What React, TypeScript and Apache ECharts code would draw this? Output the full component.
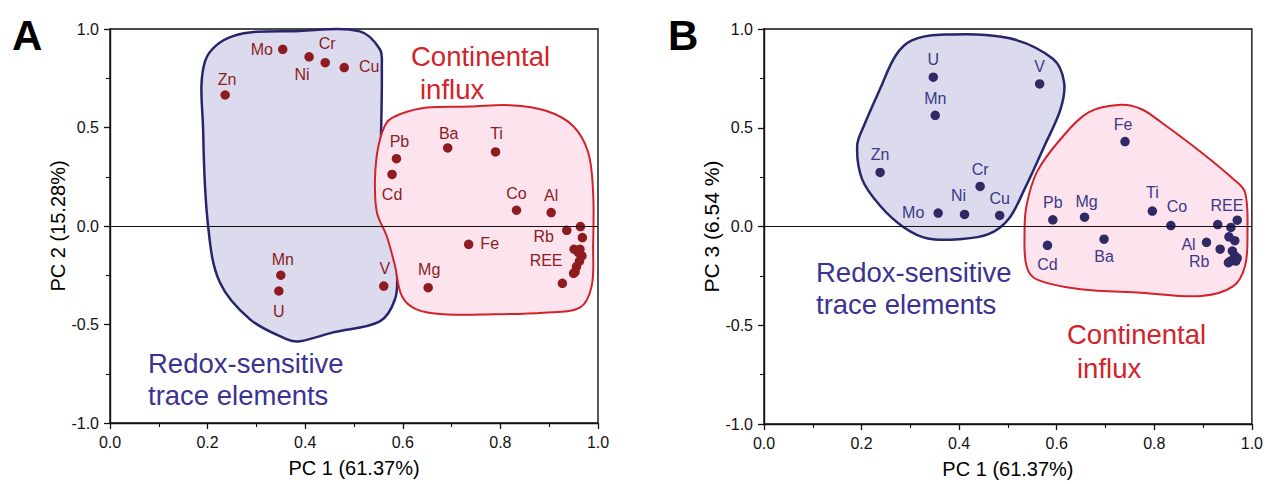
import React, { useEffect, useRef } from "react";
import * as echarts from "echarts";

// ---------- Panel A data (PC1 vs PC2) ----------
const labelsA = ["Mo", "Ni", "Cr", "Cu", "Zn", "Pb", "Cd", "Mn", "U", "V", "Ba", "Ti", "Co", "Al", "Fe", "Mg", "Rb", "REE", "", "", "", "", "", "", "", "", "", ""];
const pc1A = [0.354, 0.408, 0.441, 0.480, 0.236, 0.587, 0.578, 0.350, 0.346, 0.561, 0.692, 0.790, 0.833, 0.904, 0.735, 0.652, 0.936, 0.951, 0.964, 0.968, 0.963, 0.967, 0.962, 0.956, 0.953, 0.950, 0.960, 0.927];
const pc2A = [0.897, 0.859, 0.829, 0.804, 0.665, 0.342, 0.262, -0.250, -0.330, -0.305, 0.396, 0.376, 0.080, 0.068, -0.093, -0.313, -0.022, -0.118, -0.003, -0.059, -0.118, -0.152, -0.178, -0.206, -0.233, -0.240, -0.135, -0.291];

// ---------- Panel B data (PC1 vs PC3) ----------
const labelsB = ["U", "V", "Mn", "Fe", "Zn", "Cr", "Mo", "Ni", "Cu", "Pb", "Mg", "Ti", "Co", "Cd", "Ba", "Al", "Rb", "REE", "", "", "", "", "", "", "", "", "", ""];
const pc1B = [0.347, 0.565, 0.351, 0.740, 0.238, 0.443, 0.357, 0.411, 0.483, 0.592, 0.657, 0.796, 0.834, 0.581, 0.697, 0.907, 0.935, 0.957, 0.930, 0.970, 0.953, 0.965, 0.960, 0.965, 0.956, 0.967, 0.952, 0.970];
const pc3B = [0.756, 0.722, 0.563, 0.430, 0.274, 0.203, 0.068, 0.061, 0.056, 0.034, 0.047, 0.078, 0.005, -0.095, -0.064, -0.080, -0.115, -0.005, 0.010, 0.032, -0.052, -0.072, -0.124, -0.149, -0.175, -0.175, -0.183, -0.160];

// ---------- Group outlines (data coordinates) ----------
const hullA_redox = [[0.195, 0.838], [0.252, 0.964], [0.389, 0.990], [0.512, 0.988], [0.553, 0.897], [0.557, 0.811], [0.557, 0.095], [0.578, -0.103], [0.588, -0.235], [0.584, -0.372], [0.553, -0.484], [0.457, -0.540], [0.389, -0.585], [0.363, -0.575], [0.287, -0.474], [0.225, -0.286], [0.201, 0.0], [0.191, 0.476]];
const hullA_cont = [[0.594, 0.567], [0.649, 0.601], [0.738, 0.606], [0.820, 0.613], [0.895, 0.584], [0.949, 0.508], [0.980, 0.373], [0.990, 0.170], [0.990, -0.102], [0.987, -0.305], [0.963, -0.414], [0.888, -0.440], [0.785, -0.448], [0.683, -0.448], [0.628, -0.423], [0.598, -0.355], [0.584, -0.203], [0.567, -0.051], [0.547, 0.068], [0.543, 0.237], [0.550, 0.406], [0.567, 0.525]];
const hullB_redox = [[0.303, 0.942], [0.361, 0.971], [0.501, 0.954], [0.592, 0.849], [0.615, 0.731], [0.608, 0.595], [0.575, 0.409], [0.534, 0.189], [0.501, 0.037], [0.460, -0.039], [0.402, -0.064], [0.336, -0.061], [0.287, -0.005], [0.238, 0.105], [0.201, 0.240], [0.191, 0.409], [0.205, 0.511], [0.238, 0.697], [0.270, 0.866]];
const hullB_cont = [[0.731, 0.616], [0.666, 0.579], [0.608, 0.443], [0.559, 0.274], [0.538, 0.105], [0.534, -0.030], [0.538, -0.200], [0.559, -0.268], [0.649, -0.318], [0.773, -0.335], [0.896, -0.352], [0.962, -0.302], [0.986, -0.200], [0.991, -0.030], [0.986, 0.173], [0.962, 0.240], [0.896, 0.376], [0.814, 0.528], [0.773, 0.595]];

const xTitle = "PC 1 (61.37%)";
const yTitleA = "PC 2 (15.28%)";
const yTitleB = "PC 3 (6.54 %)";

// ---------- Label layout (pixel offsets of label centre from point) ----------
const offsetA: Record<string, [number, number]> = {
  Mo: [-21, 0], Ni: [-7, 18], Cr: [2, -19], Cu: [25, -1], Zn: [2, -15], Pb: [3, -17], Cd: [0, 20],
  Mn: [2, -16], U: [0, 20], V: [1, -18], Ba: [1, -14], Ti: [1, -18], Co: [0, -17], Al: [0, -17],
  Fe: [21, -1], Mg: [1, -18], Rb: [-23, 6], REE: [-28, 11],
};
const offsetB: Record<string, [number, number]> = {
  U: [0, -18], V: [0, -17], Mn: [0, -17], Fe: [-2, -17], Zn: [0, -18], Cr: [0, -17], Ni: [-6, -19],
  Cu: [0, -17], Mo: [-25, -1], Pb: [0, -17], Mg: [2, -16], Ti: [0, -19], Co: [6, -19], Cd: [0, 19],
  Ba: [0, 17], Al: [-18, 2], Rb: [-21, 12], REE: [-4, -22],
};

const FONT = "Arial, 'Liberation Sans', Helvetica, sans-serif";

export default function App() {
  const ref = useRef<HTMLDivElement>(null);
  useEffect(() => {
    if (!ref.current) return;
    const chart = echarts.init(ref.current, undefined, { renderer: "svg" });

    const xAxis = (gridIndex: number) => ({
      gridIndex,
      type: "value",
      min: 0,
      max: 1,
      interval: 0.2,
      name: xTitle,
      nameLocation: "middle",
      nameGap: 35,
      nameTextStyle: { fontSize: 20, color: "#000", fontFamily: FONT },
      axisLine: { show: true, onZero: false, lineStyle: { color: "#111", width: 1.4 } },
      axisTick: { show: true, inside: false, length: 6, lineStyle: { color: "#111", width: 1.3 } },
      minorTick: { show: true, splitNumber: 2, length: 4, lineStyle: { color: "#111", width: 1.1 } },
      axisLabel: { fontSize: 16, color: "#111", margin: 11, fontFamily: FONT, formatter: (v: number) => v.toFixed(1) },
      splitLine: { show: false },
    });
    const yAxis = (gridIndex: number, name: string, size: number) => ({
      gridIndex,
      type: "value",
      min: -1,
      max: 1,
      interval: 0.5,
      name,
      nameLocation: "middle",
      nameGap: 40,
      nameTextStyle: { fontSize: size, color: "#000", fontFamily: FONT },
      axisLine: { show: true, onZero: false, lineStyle: { color: "#111", width: 1.4 } },
      axisTick: { show: true, inside: false, length: 6, lineStyle: { color: "#111", width: 1.3 } },
      minorTick: { show: true, splitNumber: 2, length: 4, lineStyle: { color: "#111", width: 1.1 } },
      axisLabel: { fontSize: 16, color: "#111", margin: 11, fontFamily: FONT, formatter: (v: number) => v.toFixed(1) },
      splitLine: { show: false },
    });

    const hull = (pts: number[][], idx: number, fill: string, stroke: string, lw: number) => ({
      type: "custom",
      xAxisIndex: idx,
      yAxisIndex: idx,
      z: 1,
      silent: true,
      clip: false,
      data: [pts[0]],
      renderItem: (_p: any, api: any) => ({
        type: "polygon",
        shape: { points: pts.map((p) => api.coord(p)), smooth: 0.35 },
        style: { fill, stroke, lineWidth: lw },
      }),
    });

    const scatter = (xs: number[], ys: number[], labels: string[], offs: Record<string, [number, number]>, idx: number, dot: string, lab: string) => ({
      type: "scatter",
      xAxisIndex: idx,
      yAxisIndex: idx,
      z: 3,
      symbolSize: 9.5,
      itemStyle: { color: dot, opacity: 1 },
      data: xs.map((x, i) => ({
        value: [x, ys[i]],
        label: {
          show: !!labels[i],
          formatter: labels[i] || "",
          position: "inside",
          offset: offs[labels[i]] || [0, 0],
          color: lab,
          fontSize: 16,
          fontFamily: FONT,
          textBorderWidth: 0,
        },
      })),
      markLine: {
        silent: true,
        symbol: "none",
        label: { show: false },
        lineStyle: { color: "#111", width: 1.2, type: "solid" },
        data: [{ yAxis: 0 }],
      },
    });

    const blueFill = "#DCDBED";
    const blueLine = "#26266B";
    const redFill = "#FCE3EE";
    const redLine = "#D2232A";
    const redoxText = "#3A3392";
    const contText = "#D2232A";

    const txt = (x: number, y: number, text: string, color: string, size: number, weight = "normal") => ({
      type: "text",
      x,
      y,
      z: 10,
      style: { text, fill: color, fontSize: size, fontFamily: FONT, fontWeight: weight, textVerticalAlign: "middle", textAlign: "left" },
    });

    chart.setOption({
      animation: false,
      grid: [
        { left: 110, top: 29, width: 488, height: 394, show: true, borderColor: "#111", borderWidth: 1.4, backgroundColor: "transparent" },
        { left: 764, top: 29, width: 489, height: 395, show: true, borderColor: "#111", borderWidth: 1.4, backgroundColor: "transparent" },
      ],
      xAxis: [xAxis(0), xAxis(1)],
      yAxis: [yAxis(0, yTitleA, 20), yAxis(1, yTitleB, 21)],
      series: [
        hull(hullA_redox, 0, blueFill, blueLine, 2.5),
        hull(hullA_cont, 0, redFill, redLine, 2),
        scatter(pc1A, pc2A, labelsA, offsetA, 0, "#8E1B1E", "#8E1B1E"),
        hull(hullB_redox, 1, blueFill, blueLine, 2.5),
        hull(hullB_cont, 1, redFill, redLine, 2),
        scatter(pc1B, pc3B, labelsB, offsetB, 1, "#2F2A66", "#3B3886"),
      ],
      graphic: [
        txt(12, 35, "A", "#000", 42, "bold"),
        txt(668, 35, "B", "#000", 42, "bold"),
        txt(148, 363, "Redox-sensitive", redoxText, 27.5),
        txt(148, 395, "trace elements", redoxText, 27.5),
        txt(411, 56, "Continental", contText, 27.5),
        txt(420, 89, "influx", contText, 27.5),
        txt(816, 272, "Redox-sensitive", redoxText, 27.5),
        txt(816, 304, "trace elements", redoxText, 27.5),
        txt(1067, 334, "Continental", contText, 27.5),
        txt(1077, 368, "influx", contText, 27.5),
      ],
    });
    return () => chart.dispose();
  }, []);
  return <div ref={ref} style={{ position: "absolute", left: 0, top: 0, width: 1266, height: 484, background: "#fff" }} />;
}
